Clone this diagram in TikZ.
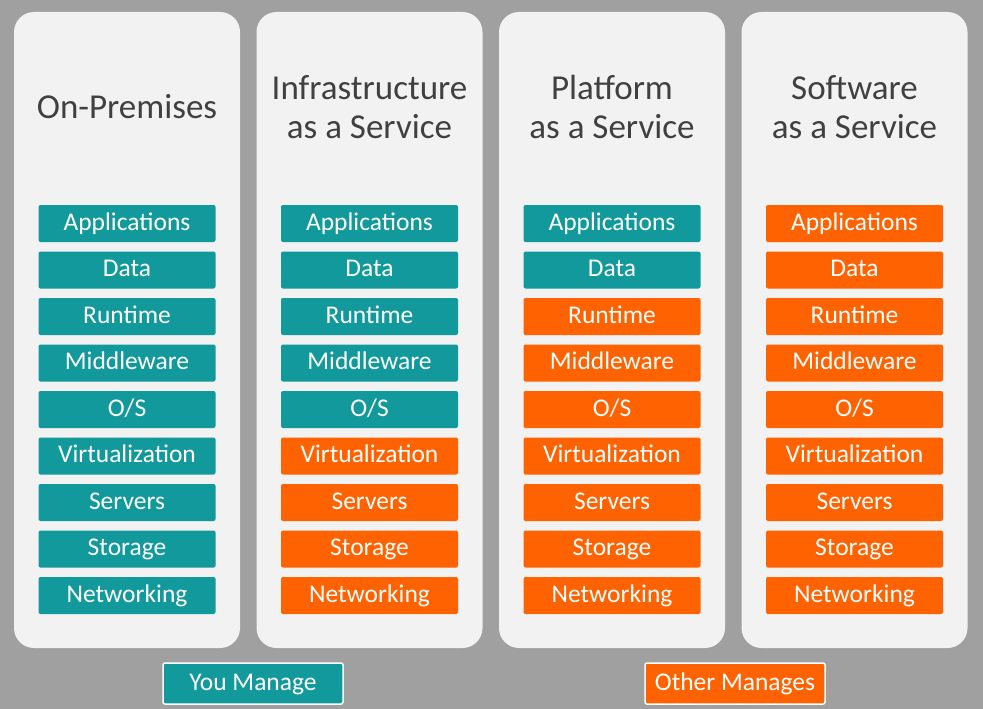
\documentclass[tikz,border=0pt]{standalone}
\usepackage{fontspec}
\setmainfont{Carlito}
\usetikzlibrary{positioning}
\definecolor{slide}{HTML}{A0A0A0}
\definecolor{card}{HTML}{F2F2F2}
\definecolor{titleink}{HTML}{404040}
\definecolor{youteal}{HTML}{12999B}
\definecolor{otherorange}{HTML}{FF6200}
\tikzset{column/.style={fill=card,rounded corners=20pt,minimum width=226pt,minimum height=636pt,inner sep=0pt},heading/.style={font=\fontsize{35}{39}\selectfont,text=titleink,align=center},layer/.style={rounded corners=2pt,minimum width=177pt,minimum height=37pt,inner sep=0pt,text height=18pt,text depth=5pt,text=white,font=\fontsize{25.5}{30}\selectfont},you/.style={layer,fill=youteal},other/.style={layer,fill=otherorange},legend/.style={draw=white,line width=1.5pt,minimum width=180pt,minimum height=41pt}}

\begin{document}
\begin{tikzpicture}[x=1pt,y=-1pt]
\fill[slide] (0,0) rectangle (983,709);
\useasboundingbox (0,0) rectangle (983,709);
\foreach \x/\name/\teal [count=\c] in {127/{On-Premises}/9,369.5/{Infrastructure\\as a Service}/5,612/{Platform\\as a Service}/2,854.5/{Software\\as a Service}/0}{
  \node[column] (col\c) at (\x,330) {};
  \node[heading] (head\c) at (\x,107) {\name};
  \foreach \layer [count=\r] in {Applications,Data,Runtime,Middleware,O/S,Virtualization,Servers,Storage,Networking}{
    \ifnum\r>\teal \def\kind{other}\else\def\kind{you}\fi
    \node[\kind] (c\c r\r) at (\x,{223.5+46.5*(\r-1)}) {\layer};
  }
}
\node[you,legend] (youkey) at (253,683.5) {You Manage};
\node[other,legend] (otherkey) at (735,683.5) {Other Manages};
\end{tikzpicture}
\end{document}
